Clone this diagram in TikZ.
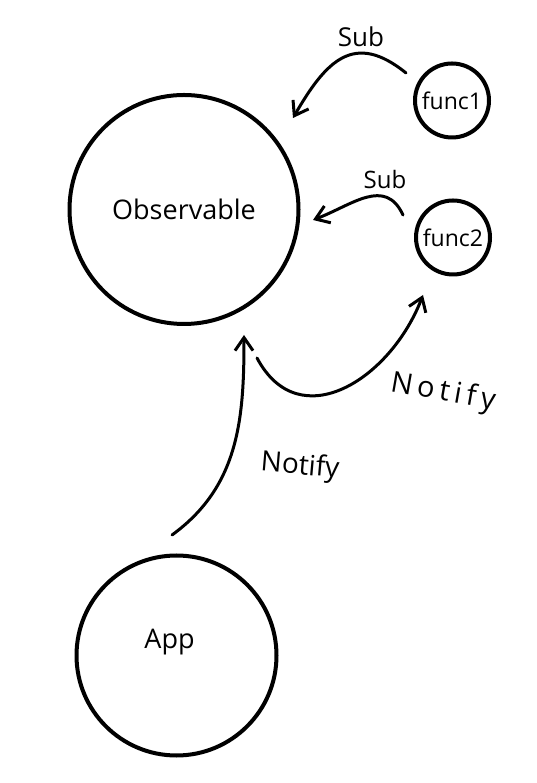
\documentclass[tikz,border=0pt]{standalone}
\usepackage{fontspec}
\setmainfont{Open Sans}
\usetikzlibrary{arrows.meta}
\begin{document}
\begin{tikzpicture}[x=1pt,y=1pt]
\tikzstyle{bub} = [circle,draw,line width=4pt,inner sep=0pt]
\tikzstyle{big} = [font=\fontsize{27pt}{32pt}\selectfont]
\tikzstyle{small} = [font=\fontsize{23pt}{28pt}\selectfont]
\tikzstyle{hand} = [font=\fontsize{26pt}{30pt}\selectfont,inner sep=1pt]
\tikzstyle{flow} = [line width=3pt,line cap=round,line join=round,arrows={-Straight Barb[length=13pt,width=18pt]}]

\useasboundingbox (0,0) rectangle (536,783);

\node[bub,big,minimum size=229pt] (obs) at (184,573.5) {Observable};
\node[bub,small,minimum size=74pt] (f1) at (452,682.5) {func1};
\node[bub,small,minimum size=74pt] (f2) at (453,545.5) {func2};
\node[bub,minimum size=200pt,label={[name=apptxt,big,xshift=-7pt,yshift=13pt]center:App}] (app) at (176.5,127.5) {};

\draw[flow] ([shift={(-46,27.5)}]f1.center) to[out=141,in=60,looseness=1.4] ([shift={(109,91.5)}]obs.center);
\node[hand] (sub1) at (361,746) {Sub};
\draw[flow] ([shift={(-50,22.5)}]f2.center) to[out=115,in=21,looseness=1.2] ([shift={(129,-10.5)}]obs.center);
\node[hand,font=\fontsize{24pt}{28pt}\selectfont] (sub2) at (385,603) {Sub};
\draw[flow] ([shift={(-4.5,120.5)}]app.center) to[out=36,in=-90] ([shift={(60,-125.5)}]obs.center);
\node[hand,font=\fontsize{28pt}{32pt}\selectfont,rotate=-5] (note1) at (300,316) {Notify};
\draw[flow] ([shift={(73,-148.5)}]obs.center) to[out=-62,in=-111,looseness=1.3] ([shift={(-30,-57.5)}]f2.center);
\node[hand,font=\fontsize{29pt}{33pt}\selectfont,rotate=-10] (note2) at (443,390) {N\,o\,t\,i\,f\,y};
\end{tikzpicture}
\end{document}
